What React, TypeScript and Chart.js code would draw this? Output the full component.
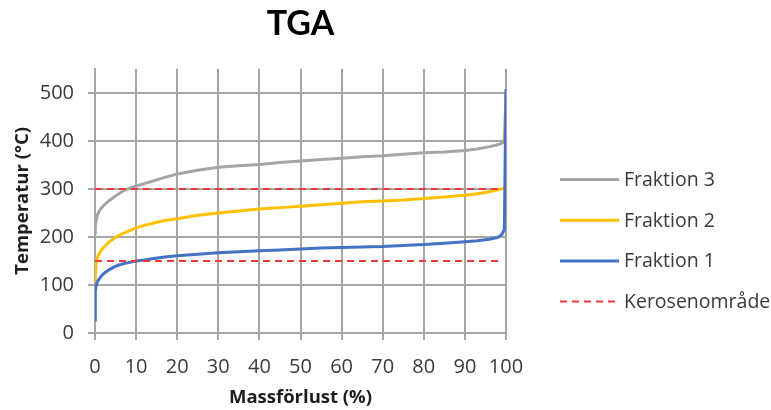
import { useEffect, useRef } from 'react';
import { Chart, registerables } from 'chart.js';

Chart.register(...registerables);

const massLoss = [0, 0.05, 0.1, 0.3, 0.6, 1, 1.5, 2.3, 3.5, 4.8, 6, 7.3, 10, 12, 14.3, 17, 20, 25, 30, 35, 40, 45, 50, 55, 60, 65, 70, 75, 80, 85, 90, 93, 96, 98, 99, 99.6, 100];
const fraktion3 = [208, 215, 222, 235, 246, 253, 260, 267, 276, 284, 291, 298, 306, 311, 317, 324, 331, 339, 345, 348, 351, 355, 358, 361, 364, 367, 369, 372, 375, 377, 380, 383, 388, 392, 395, 398, 500];
const fraktion2 = [92, 108, 120, 146, 158, 165, 172, 180, 190, 198, 204, 209, 219, 224, 229, 234, 238, 245, 250, 254, 258, 261, 264, 267, 270, 273, 275, 277, 280, 283, 287, 290, 294, 298, 300, 302, 304];
const fraktion1 = [27, 70, 88, 100, 107, 112, 118, 125, 132, 138, 142, 145, 150, 152, 155, 158, 161, 164, 167, 169, 171, 173, 175, 177, 178, 179, 180, 182, 184, 187, 190, 192, 195, 199, 205, 215, 508];

const keroX = [0, 99];
const keroUpper = [300, 300];
const keroLower = [150, 150];

const xTicks = [0, 10, 20, 30, 40, 50, 60, 70, 80, 90, 100];
const yTicks = [0, 100, 200, 300, 400, 500];

const FONT = '"Open Sans", Lato, sans-serif';
const TITLE_FONT = 'Lato, "Open Sans", sans-serif';
const GRID = '#a6a6a6';
const TEXT = '#3a3a3a';

const toPoints = (xs: number[], ys: number[]) => xs.map((x, i) => ({ x, y: ys[i] }));

const sideLegend = {
  id: 'sideLegend',
  afterDraw(chart: any) {
    const ctx = chart.ctx as CanvasRenderingContext2D;
    const seen = new Set<string>();
    const items: any[] = [];
    chart.data.datasets.forEach((ds: any) => {
      if (seen.has(ds.label)) return;
      seen.add(ds.label);
      items.push(ds);
    });
    items.sort((a, b) => a.legendRank - b.legendRank);
    const x0 = 560, x1 = 619, tx = 624, y0 = 179.5, step = 40.7;
    ctx.save();
    items.forEach((ds, i) => {
      const y = y0 + i * step;
      ctx.beginPath();
      ctx.strokeStyle = ds.borderColor;
      ctx.lineWidth = ds.borderWidth;
      ctx.setLineDash(ds.borderDash || []);
      ctx.moveTo(x0, y);
      ctx.lineTo(x1, y);
      ctx.stroke();
      ctx.setLineDash([]);
      ctx.fillStyle = TEXT;
      ctx.font = `19.5px ${FONT}`;
      ctx.textBaseline = 'middle';
      ctx.textAlign = 'left';
      ctx.fillText(ds.label, tx, y + 1);
    });
    ctx.restore();
  },
};

export default function App() {
  const ref = useRef<HTMLCanvasElement>(null);
  useEffect(() => {
    if (!ref.current) return;
    const chart = new Chart(ref.current, {
      type: 'line',
      data: {
        datasets: [
          { label: 'Kerosenområde', data: toPoints(keroX, keroUpper), borderColor: '#f03a3a', borderWidth: 2, borderDash: [7, 5], pointRadius: 0, order: 0, legendRank: 3 } as any,
          { label: 'Kerosenområde', data: toPoints(keroX, keroLower), borderColor: '#f03a3a', borderWidth: 2, borderDash: [7, 5], pointRadius: 0, order: 0, legendRank: 3 } as any,
          { label: 'Fraktion 1', data: toPoints(massLoss, fraktion1), borderColor: '#4472C4', borderWidth: 3, pointRadius: 0, order: 1, legendRank: 2 } as any,
          { label: 'Fraktion 2', data: toPoints(massLoss, fraktion2), borderColor: '#FFC000', borderWidth: 3, pointRadius: 0, order: 2, legendRank: 1 } as any,
          { label: 'Fraktion 3', data: toPoints(massLoss, fraktion3), borderColor: '#A5A5A5', borderWidth: 3, pointRadius: 0, order: 3, legendRank: 0 } as any,
        ],
      },
      options: {
        animation: false,
        responsive: false,
        maintainAspectRatio: false,
        layout: { padding: { left: 0, right: 265, top: 0, bottom: 0 } },
        plugins: {
          legend: { display: false },
          tooltip: { enabled: false },
          title: {
            display: true,
            text: 'TGA',
            fullSize: false,
            color: '#000000',
            font: { family: TITLE_FONT, size: 34, weight: 'bold' },
            padding: { top: 4, bottom: 24 },
          },
        },
        elements: { line: { tension: 0 } },
        scales: {
          x: {
            type: 'linear',
            min: 0,
            max: 100,
            afterFit: (s: any) => { s.height = 77; },
            afterBuildTicks: (s: any) => { s.ticks = xTicks.map((v) => ({ value: v })); },
            ticks: { color: TEXT, font: { family: FONT, size: 20 }, padding: 15, maxRotation: 0 },
            grid: { color: GRID, lineWidth: 2, tickLength: 7, tickColor: GRID },
            border: { color: GRID, width: 2 },
            title: { display: true, text: 'Massförlust (%)', color: '#1e1e1e', font: { family: FONT, size: 18.5, weight: 'bold' }, padding: { top: 0, bottom: 1 } },
          },
          y: {
            type: 'linear',
            min: 0,
            max: 550,
            afterFit: (s: any) => { s.width = 95; },
            afterBuildTicks: (s: any) => { s.ticks = yTicks.map((v) => ({ value: v })); },
            ticks: { color: TEXT, font: { family: FONT, size: 20 }, padding: 14 },
            grid: { color: GRID, lineWidth: 2, tickLength: 7, tickColor: GRID },
            border: { color: GRID, width: 2 },
            title: { display: true, text: 'Temperatur (°C)', color: '#1e1e1e', font: { family: FONT, size: 18.5, weight: 'bold' }, padding: { top: 12, bottom: 0 } },
          },
        },
      },
      plugins: [sideLegend],
    });
    return () => chart.destroy();
  }, []);
  return (
    <div style={{ position: 'absolute', left: 0, top: 0, width: 771, height: 410 }}>
      <canvas ref={ref} width={771} height={410} style={{ width: 771, height: 410 }} />
    </div>
  );
}
